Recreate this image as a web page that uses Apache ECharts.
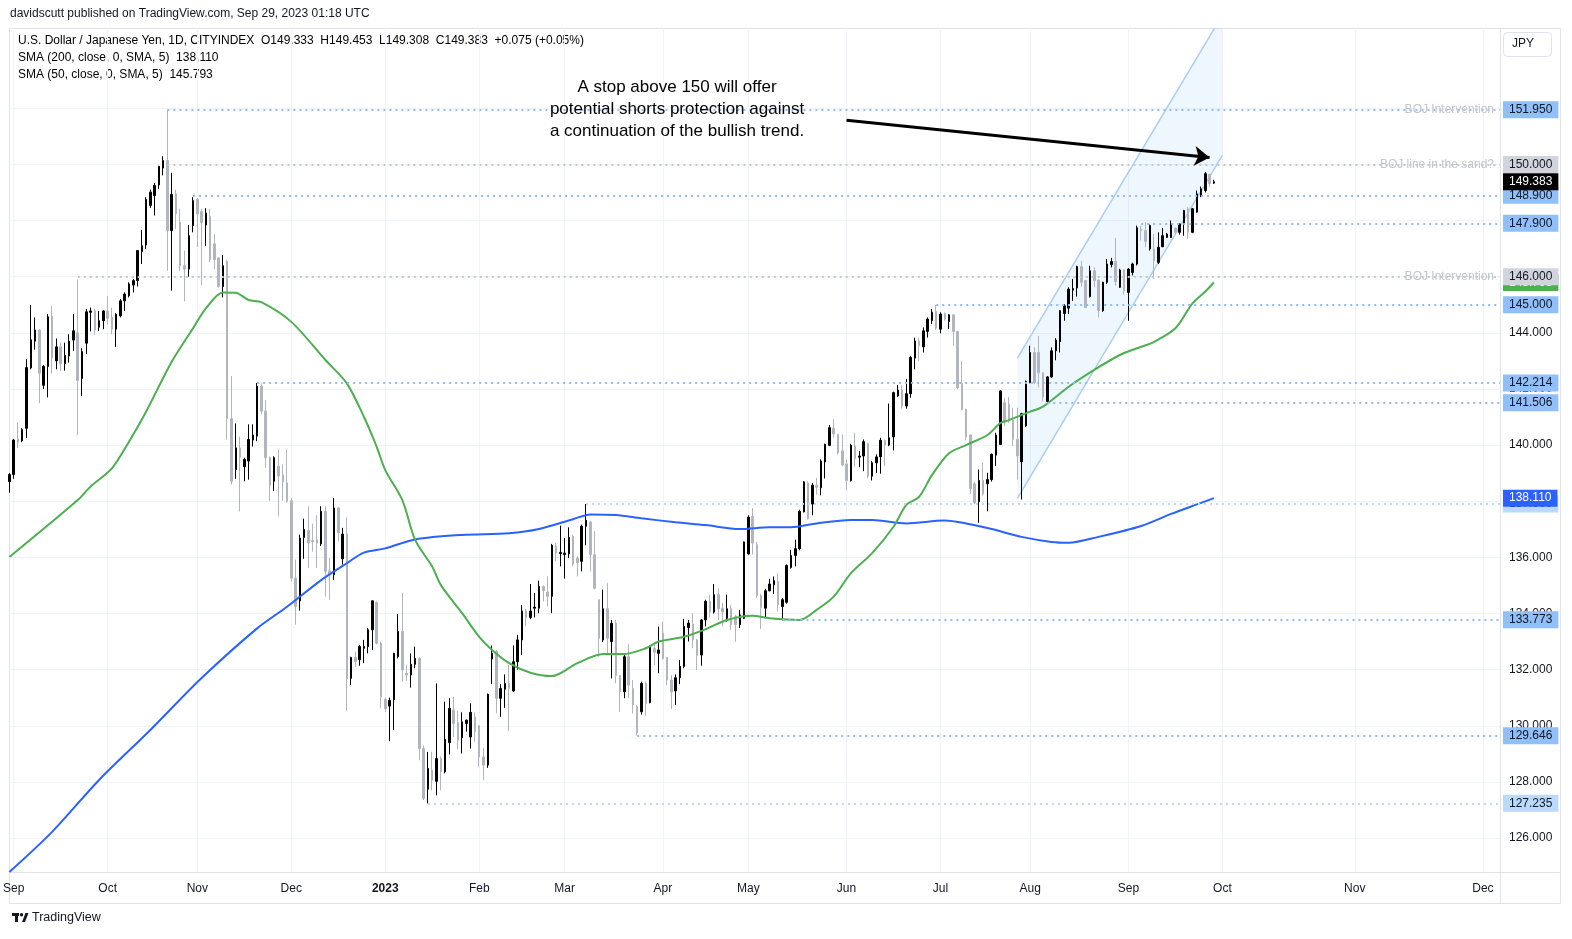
<!DOCTYPE html>
<html>
<head>
<meta charset="utf-8">
<title>USDJPY 1D</title>
<script src="https://cdn.jsdelivr.net/npm/echarts@6/dist/echarts.min.js"></script>
<style>
  html, body { margin: 0; padding: 0; background: #ffffff; }
  #chart { width: 1572px; height: 939px; }
</style>
</head>
<body>
<div id="chart"></div>
<script>
const FONT = '"Liberation Sans", Arial, sans-serif';

// candles, [open, close, low, high], one array per month
const sep22 = [
  [138.70,138.95,138.30,139.00],[138.95,140.18,138.80,140.22],[140.20,140.10,139.90,140.80],
  [140.15,140.55,140.10,140.60],[140.60,142.76,140.25,143.06],[142.75,143.75,142.70,144.99],
  [143.70,144.10,143.40,144.55],[144.10,142.56,141.50,144.12],[142.13,142.80,142.00,142.85],
  [142.80,144.57,141.70,144.67],[144.60,143.10,142.55,144.96],[143.00,143.50,142.70,143.80],
  [143.50,142.90,142.64,143.65],[142.90,143.20,142.65,143.65],[143.17,143.70,142.94,143.95],
  [143.74,144.07,143.36,144.67],[144.00,142.30,140.35,145.90],[142.37,143.33,141.75,143.45],
  [143.63,144.75,143.24,144.85],[144.73,144.78,144.05,144.90],[144.78,144.10,143.93,144.85],
  [144.20,144.43,144.07,144.78],[144.43,144.78,144.13,144.80]
];
const oct22 = [
  [144.78,144.52,144.30,145.30],[144.55,144.13,143.95,144.90],[144.13,144.66,143.50,144.70],
  [144.60,145.14,144.55,145.20],[145.14,145.38,144.78,145.44],[145.32,145.74,145.26,145.80],
  [145.70,145.86,145.44,145.92],[145.86,146.93,145.65,146.95],[146.90,147.10,146.45,147.67],
  [147.13,148.75,146.99,148.83],[148.54,149.01,148.45,149.10],[148.89,149.25,148.18,149.34],
  [149.27,149.93,149.13,149.95],[149.87,150.14,149.61,150.29],[150.14,147.64,146.21,151.95],
  [147.64,148.93,145.50,149.70],[148.95,148.24,147.70,149.10],[147.94,146.39,146.21,148.42],
  [146.39,146.27,145.12,146.93],[146.27,147.46,146.00,147.84],[147.82,148.71,147.58,148.83]
];
const nov22 = [
  [148.75,148.24,147.05,148.80],[148.32,147.92,145.70,148.42],[147.84,148.27,147.10,148.44],
  [148.14,146.61,146.51,148.42],[147.17,146.61,146.27,147.52],[146.67,145.65,145.62,146.70],
  [145.65,146.39,145.26,146.77],[146.54,140.94,140.20,146.60],[140.94,138.71,138.60,142.46],
  [139.13,139.90,138.80,140.77],[139.90,139.57,137.64,140.30],[139.23,139.49,138.71,139.55],
  [139.43,140.20,138.77,140.74],[140.18,140.36,139.95,140.74],[140.32,142.10,140.14,142.214],
  [142.10,141.21,141.10,142.20],[141.21,139.55,139.19,141.60],[139.55,138.57,138.02,139.60],
  [138.71,139.55,138.36,139.60],[139.25,138.90,137.46,139.85],[138.93,138.69,138.02,139.31],
  [138.65,138.00,137.94,139.85]
];
const dec22 = [
  [138.02,135.26,135.14,138.12],[135.26,134.25,133.60,135.92],[134.45,136.69,134.10,136.81],
  [136.71,136.99,135.95,137.38],[136.95,136.51,135.62,137.82],[136.60,136.55,136.20,137.20],
  [136.63,136.51,135.62,137.50],[136.48,137.64,136.40,137.82],[137.64,135.50,134.60,137.82],
  [135.52,135.38,134.49,135.98],[135.38,137.76,135.20,138.12],[137.76,136.87,136.57,137.80],
  [135.95,136.83,135.74,137.05],[136.83,131.67,130.52,137.43],[131.69,132.43,131.45,132.46],
  [132.43,132.29,132.10,132.64],[132.35,132.82,132.14,132.88],[132.76,132.82,132.23,133.06],
  [132.82,133.42,132.58,133.48],[133.42,134.45,132.70,134.47],[134.40,132.94,132.90,134.42],
  [132.94,131.04,130.62,133.00]
];
const jan23 = [
  [130.95,130.60,130.50,131.00],[130.70,130.90,129.45,131.00],[130.92,132.58,129.85,132.60],
  [132.46,133.36,132.40,133.98],[133.36,131.99,131.57,134.73],[131.87,131.81,131.60,132.17],
  [131.81,132.19,131.36,132.58],[132.19,132.40,132.05,132.82],[132.40,129.19,128.77,132.45],
  [129.19,127.41,127.35,129.30],[127.74,128.48,127.235,129.07],[128.42,128.06,127.70,129.07],
  [128.02,128.83,127.52,131.51],[128.83,128.36,127.70,128.90],[128.36,129.52,128.30,130.86],
  [129.40,130.62,128.98,130.98],[130.56,130.08,129.60,131.04],[130.12,129.49,129.17,130.52],
  [129.57,130.14,129.01,130.48],[130.08,130.20,129.79,130.22],[129.60,130.48,129.19,130.80],
  [130.32,129.79,129.43,130.48]
];
const feb23 = [
  [130.00,128.89,128.54,130.02],[128.89,128.60,128.06,129.21],[128.60,131.12,128.50,131.15],
  [132.38,132.58,131.48,132.86],[132.64,130.98,130.44,132.70],[130.98,131.33,130.32,131.48],
  [131.30,131.51,130.64,131.83],[131.51,131.33,129.80,132.17],[131.24,132.28,131.20,132.86],
  [132.28,133.06,132.00,133.24],[133.06,134.09,132.52,134.30],[134.09,133.86,133.54,134.17],
  [133.86,134.09,133.80,135.05],[134.19,134.23,133.86,134.73],[134.19,134.96,134.01,135.17],
  [134.96,134.81,134.43,135.00],[134.76,134.61,134.25,135.32],[134.61,136.43,134.01,136.48],
  [136.39,136.15,135.86,136.51],[136.14,136.18,135.68,137.13]
];
const mar23 = [
  [136.10,136.15,135.24,136.69],[136.12,136.71,135.98,137.07],[136.75,135.76,135.68,136.80],
  [135.98,135.80,135.32,136.04],[135.86,137.11,135.50,137.17],[137.11,137.32,136.43,137.90],
  [137.26,136.09,135.50,137.30],[136.09,134.90,134.85,136.93],[134.49,133.12,132.46,134.50],
  [133.06,134.17,132.98,134.85],[134.17,133.12,132.52,135.08],[133.00,133.65,131.69,133.77],
  [133.65,131.79,131.51,133.77],[131.79,131.21,130.50,131.80],[131.21,132.46,130.98,132.55],
  [132.46,131.45,130.98,132.90],[131.33,130.74,130.44,131.63],[130.68,129.75,129.646,130.75],
  [130.50,131.51,130.40,131.57],[131.51,130.80,130.36,131.57],[130.83,132.79,130.80,132.86],
  [132.76,132.62,132.17,132.88],[132.58,132.70,131.87,133.53]
];
const apr23 = [
  [133.30,132.40,132.35,133.71],[132.43,131.63,131.45,132.45],[131.63,131.20,130.60,131.80],
  [131.24,131.71,130.74,131.83],[131.71,132.11,131.48,132.34],[132.11,133.54,132.05,133.81],
  [133.50,133.66,133.00,133.77],[133.62,133.06,132.76,134.01],[133.06,132.50,131.99,133.10],
  [132.52,133.77,132.14,133.80],[133.77,134.43,133.54,134.49],[134.43,134.05,133.86,134.67],
  [134.05,134.67,134.00,135.05],[134.67,134.17,133.77,134.90],[134.19,134.05,133.54,134.37],
  [133.83,134.17,133.71,134.67],[134.17,133.60,133.42,134.31],[133.89,133.60,133.00,133.95],
  [133.60,133.95,133.48,134.13],[133.83,136.55,133.80,136.57]
];
const may23 = [
  [136.12,137.43,136.10,137.50],[137.46,136.51,136.10,137.76],[136.45,134.64,134.55,136.55],
  [134.64,134.21,133.45,134.70],[134.19,134.81,133.83,134.88],[134.81,135.05,134.79,135.24],
  [135.02,135.17,134.69,135.32],[135.14,134.31,134.07,135.44],[134.25,134.49,133.773,134.55],
  [134.40,135.71,134.35,135.75],[135.64,136.07,135.60,136.27],[136.07,136.31,135.68,136.63],
  [136.31,137.64,136.25,137.70],[137.62,138.69,137.60,138.71],[138.65,137.38,137.35,138.70],
  [137.90,138.57,137.50,138.65],[138.57,138.50,138.24,138.83],[138.48,139.43,138.21,139.49],
  [139.40,140.02,138.81,140.05],[139.99,140.62,139.96,140.71],[140.60,140.40,140.26,140.92],
  [140.38,139.73,139.67,140.40],[139.79,139.29,139.25,140.38]
];
const jun23 = [
  [139.33,138.74,138.39,139.49],[138.74,140.00,138.70,140.05],[139.96,139.52,139.21,140.44],
  [139.57,139.61,139.21,139.79],[139.61,140.12,139.07,140.20],[140.06,138.89,138.83,140.08],
  [138.89,139.37,138.74,139.43],[139.37,139.58,139.01,139.67],[139.58,140.17,138.98,140.26],
  [140.17,140.00,139.25,140.20],[140.00,140.26,139.96,141.48],[140.29,141.87,139.81,141.90],
  [141.75,141.96,141.71,142.14],[141.96,141.39,141.30,142.14],[141.39,141.83,141.30,142.35],
  [141.83,143.12,141.69,143.18],[143.10,143.71,142.70,143.83],[143.71,143.54,143.00,143.83],
  [143.50,144.07,143.30,144.19],[144.05,144.49,143.83,144.55],[144.43,144.73,144.31,144.85],
  [144.76,144.17,144.10,145.00]
];
const jul23 = [
  [144.13,144.67,143.98,144.73],[144.69,144.49,144.43,144.72],[144.40,144.64,144.13,144.66],
  [144.64,144.05,143.54,144.66],[144.05,142.05,142.00,144.07],[142.19,141.27,141.24,143.00],
  [141.27,140.29,140.17,141.30],[140.36,138.45,138.26,140.38],[138.62,137.94,137.90,138.70],
  [137.98,138.74,137.23,139.13],[138.74,138.26,138.20,139.37],[138.62,138.77,137.64,139.01],
  [138.77,139.67,138.70,139.70],[139.64,140.36,139.25,140.44],[140.02,141.93,140.00,141.95],
  [141.51,140.80,140.68,141.69],[141.45,140.86,140.80,141.71],[140.88,140.20,139.96,141.33],
  [140.20,139.61,138.77,141.33],[139.40,141.12,138.06,141.15],[140.68,142.26,140.65,142.30]
];
const aug23 = [
  [142.23,143.30,142.20,143.54],[143.30,142.23,142.17,143.48],[143.30,142.58,142.05,143.89],
  [142.58,141.71,141.55,142.60],[141.55,142.43,141.506,142.45],[142.43,143.36,142.40,143.48],
  [143.36,143.74,143.02,143.81],[143.69,144.79,143.30,144.81],[144.69,144.96,144.43,145.02],
  [144.88,145.56,144.67,145.62],[145.52,145.58,145.14,145.92],[145.60,146.36,145.29,146.39],
  [146.36,145.80,145.64,146.57],[145.86,144.90,144.88,145.88],[145.29,146.21,145.26,146.39],
  [146.21,145.86,145.62,146.33],[145.88,144.79,144.55,145.90],[144.79,145.80,144.75,145.82],
  [145.80,146.45,145.74,146.63],[146.43,146.54,146.33,146.67],[146.54,145.83,145.68,147.38],
  [145.62,146.24,145.60,146.28],[146.24,145.50,145.36,146.26]
];
const sep23 = [
  [145.44,146.27,144.43,146.30],[146.15,146.45,146.04,146.50],[146.45,147.74,146.40,147.82],
  [147.70,147.64,147.29,147.82],[147.64,147.26,147.05,147.94],[146.99,147.82,146.93,147.86],
  [146.99,146.57,145.92,147.52],[146.51,147.05,146.45,147.58],[147.07,147.46,147.05,147.74],
  [147.40,147.52,147.38,147.56],[147.40,147.88,147.38,148.00],[147.73,147.58,147.50,147.76],
  [147.58,147.88,147.50,147.90],[147.88,148.36,147.46,148.38],[148.42,147.58,147.35,148.48],
  [147.58,148.42,147.55,148.45],[148.30,148.95,148.28,149.07],[148.89,149.13,148.83,149.21],
  [149.07,149.67,149.00,149.73],[149.64,149.31,149.19,149.67],[149.333,149.383,149.308,149.453]
];

// moving averages, [bar index, value]
const sma200 = [
  [0,124.79],[10,126.22],[21,128.07],[33,129.85],[45,131.70],[58,133.47],[65,134.24],[73,135.19],
  [79,135.79],[83,136.17],[88,136.32],[95,136.64],[106,136.80],[117,136.86],[124,137.01],[132,137.36],
  [136,137.53],[142,137.51],[148,137.39],[156,137.25],[163,137.15],[171,137.01],[178,137.07],[183,137.07],
  [189,137.21],[197,137.33],[202,137.33],[210,137.21],[219,137.31],[224,137.21],[230,137.01],[237,136.73],
  [244,136.55],[248,136.52],[255,136.73],[265,137.12],[272,137.55],[279,137.94],[282,138.11]
];
const sma50 = [
  [0,136.01],[16,138.04],[19,138.52],[24,139.17],[28,140.12],[32,141.19],[38,142.97],[43,144.16],
  [46,144.87],[50,145.44],[53,145.43],[56,145.17],[59,145.09],[66,144.39],[74,143.03],[79,142.20],
  [83,141.01],[86,139.94],[88,139.11],[92,138.04],[95,136.62],[99,135.67],[101,135.02],[106,134.01],
  [110,133.17],[113,132.70],[117,132.23],[122,131.89],[127,131.77],[133,132.23],[139,132.56],[144,132.56],
  [149,132.76],[152,133.00],[158,133.17],[163,133.44],[168,133.77],[174,133.92],[178,133.83],[185,133.77],
  [189,134.13],[193,134.60],[197,135.43],[202,136.15],[207,137.09],[210,137.87],[213,138.16],[216,138.93],
  [220,139.71],[224,140.00],[229,140.36],[232,140.78],[234,140.89],[239,141.19],[242,141.37],[248,142.08],
  [254,142.68],[260,143.21],[264,143.45],[268,143.68],[273,144.16],[277,145.05],[280,145.47],[282,145.793]
];

// horizontal levels drawn on the chart
const levelPrice = [151.95, 150.0, 148.9, 147.9, 146.0, 145.0, 142.214, 141.506, 137.9, 133.773, 129.646, 127.235];
const levelFrom  = ['2022-10-21','2022-10-21','2022-10-31','2023-09-06','2022-09-22','2023-06-30',
                    '2022-11-21','2023-08-07','2023-03-08','2023-05-11','2023-03-24','2023-01-16'];
const levelKind  = ['blue','gray','blue','blue','gray','blue','blue','blue','light','blue','blue','light'];
const levelNote  = ['BOJ Intervention','BOJ line in the sand?','','','BOJ Intervention','','','','','','',''];

// trend channel and arrow, [bar index, price]
const channelUpper = [[236, 143.10], [283.8, 155.32]];
const channelLower = [[236, 138.10], [283.8, 150.32]];
const arrowLine = [[196, 151.57], [281, 150.25]];

const priceTicks = [126,128,130,132,134,136,138,140,142,144,146,148,150,152];
const monthNames = ['Jan','Feb','Mar','Apr','May','Jun','Jul','Aug','Sep','Oct','Nov','Dec'];
const yMin = 124.79, yMax = 154.86;

function buildDates() {
  const out = [];
  const d = new Date(Date.UTC(2022, 7, 31));
  const pastEnd = Date.UTC(2023, 8, 29);
  const futureEnd = Date.UTC(2023, 11, 5);
  while (d.getTime() <= futureEnd) {
    const dow = d.getUTCDay();
    if (d.getTime() > pastEnd || (dow !== 0 && dow !== 6)) out.push(d.toISOString().slice(0, 10));
    d.setUTCDate(d.getUTCDate() + 1);
  }
  return out;
}

const dates = buildDates();
const lastDate = dates[dates.length - 1];
const lastIdx = dates.length - 1;
const candles = [].concat(sep22, oct22, nov22, dec22, jan23, feb23, mar23, apr23, may23, jun23, jul23, aug23, sep23);
const monthStart = new Set();
dates.forEach((d, i) => { if (i > 0 && d.slice(5, 7) !== dates[i - 1].slice(5, 7)) monthStart.add(i); });
const isMonthStart = (i) => monthStart.has(i);

const lineColor = { blue: '#8fbcf8', gray: '#c5c7cd', light: '#bcd9fb' };
const boxColor  = { blue: '#90bff9', gray: '#d1d4dc', light: '#bbd9fb' };

const boxLabel = (p, bg, fg) => ({
  show: true, position: 'end', distance: 3, formatter: p.toFixed(3),
  color: fg, backgroundColor: bg, padding: [3, 6, 2, 6],
  fontSize: 12, fontFamily: FONT
});

const levelLines = levelPrice.map((p, i) => [
  {
    coord: [levelFrom[i], p],
    lineStyle: { color: lineColor[levelKind[i]], type: [2, 4], width: 2 },
    label: boxLabel(p, boxColor[levelKind[i]], '#131722')
  },
  { coord: [lastDate, p] }
]);
const levelNotes = levelPrice.map((p, i) => ({ p, note: levelNote[i] }))
  .filter(o => o.note)
  .map(o => ({
    coord: [lastDate, o.p],
    label: { formatter: o.note }
  }));

// price tags on the axis, no visible line
const tagLine = (p, bg) => [
  { coord: [dates[lastIdx - 1], p], lineStyle: { color: 'rgba(255,255,255,0)', width: 1 }, label: boxLabel(p, bg, '#ffffff') },
  { coord: [lastDate, p] }
];

const last = sep23[sep23.length - 1];
const legend1 = '{t|U.S. Dollar / Japanese Yen, 1D, CITYINDEX}  ' +
  '{t|O}{g|' + last[0].toFixed(3) + '}  {t|H}{g|' + last[3].toFixed(3) + '}  ' +
  '{t|L}{g|' + last[2].toFixed(3) + '}  {t|C}{g|' + last[1].toFixed(3) + '}  {g|+0.075 (+0.05%)}';
const legend2 = '{t|SMA (200, close, 0, SMA, 5)}  {b|' + sma200[sma200.length - 1][1].toFixed(3) + '}';
const legend3 = '{t|SMA (50, close, 0, SMA, 5)}  {s|' + sma50[sma50.length - 1][1].toFixed(3) + '}';
const legendRich = {
  t: { color: '#131722', fontSize: 12, fontFamily: FONT },
  g: { color: '#089981', fontSize: 12, fontFamily: FONT },
  b: { color: '#2962ff', fontSize: 12, fontFamily: FONT },
  s: { color: '#4caf50', fontSize: 12, fontFamily: FONT }
};

const chart = echarts.init(document.getElementById('chart'), null, { renderer: 'canvas' });

chart.setOption({
  backgroundColor: '#ffffff',
  animation: false,
  textStyle: { fontFamily: FONT },
  grid: { left: 9, right: 72, top: 28, bottom: 67 },
  xAxis: {
    type: 'category',
    data: dates,
    boundaryGap: false,
    axisLine: { show: false },
    axisTick: { show: false },
    axisLabel: {
      interval: isMonthStart,
      margin: 11,
      formatter: (v) => {
        const m = +v.slice(5, 7);
        return m === 1 ? '{y|' + v.slice(0, 4) + '}' : '{m|' + monthNames[m - 1] + '}';
      },
      rich: {
        m: { color: '#131722', fontSize: 12, fontFamily: FONT },
        y: { color: '#131722', fontSize: 12, fontWeight: 'bold', fontFamily: FONT }
      }
    },
    splitLine: { show: true, interval: isMonthStart, lineStyle: { color: '#f0f3fa', width: 1 } }
  },
  yAxis: {
    type: 'value',
    position: 'right',
    min: yMin,
    max: yMax,
    axisLine: { show: false },
    axisTick: { show: false, customValues: priceTicks },
    axisLabel: {
      customValues: priceTicks,
      formatter: (v) => v.toFixed(3),
      color: '#131722', fontSize: 12, fontFamily: FONT, margin: 9
    },
    splitLine: { show: false }
  },
  series: [
    {
      name: 'grid',
      type: 'line',
      data: [],
      z: 1,
      silent: true,
      markLine: {
        silent: true, symbol: 'none', z: 1,
        label: { show: false },
        lineStyle: { color: '#f0f3fa', type: 'solid', width: 1 },
        data: priceTicks.map(p => ({ yAxis: p }))
      }
    },
    {
      name: 'channel',
      type: 'custom',
      z: 2,
      clip: true,
      silent: true,
      data: [0],
      renderItem: (params, api) => {
        const up = channelUpper.map(p => api.coord(p));
        const lo = channelLower.map(p => api.coord(p));
        const cs = params.coordSys;
        return {
          type: 'group',
          clipPath: { type: 'rect', shape: { x: cs.x, y: cs.y, width: cs.width, height: cs.height } },
          children: [
            { type: 'polygon', shape: { points: [up[0], up[1], lo[1], lo[0]] }, style: { fill: 'rgba(33,150,243,0.08)' } },
            { type: 'line', shape: { x1: up[0][0], y1: up[0][1], x2: up[1][0], y2: up[1][1] }, style: { stroke: '#a9cdf7', lineWidth: 1.5 } },
            { type: 'line', shape: { x1: lo[0][0], y1: lo[0][1], x2: lo[1][0], y2: lo[1][1] }, style: { stroke: '#a9cdf7', lineWidth: 1.5 } }
          ]
        };
      }
    },
    {
      name: 'USDJPY',
      type: 'candlestick',
      data: candles,
      z: 3,
      barWidth: 2,
      itemStyle: {
        color: '#000000', color0: '#b2b5be',
        borderColor: '#000000', borderColor0: '#b2b5be', borderWidth: 1
      }
    },
    {
      name: 'SMA 200',
      type: 'line',
      data: sma200,
      z: 4,
      symbol: 'none',
      smooth: 0.3,
      lineStyle: { color: '#2962ff', width: 2 }
    },
    {
      name: 'SMA 50',
      type: 'line',
      data: sma50,
      z: 4,
      symbol: 'none',
      smooth: 0.3,
      lineStyle: { color: '#4caf50', width: 2 }
    },
    {
      name: 'sma50 tag',
      type: 'line',
      data: [],
      z: 5,
      clip: false,
      markLine: { silent: true, symbol: 'none', z: 5, data: [tagLine(sma50[sma50.length - 1][1], '#4caf50')] }
    },
    {
      name: 'levels',
      type: 'line',
      data: [],
      z: 6,
      clip: false,
      markLine: { silent: true, symbol: 'none', z: 6, data: levelLines },
      markPoint: {
        silent: true, symbol: 'circle', symbolSize: 0, z: 6,
        label: { show: true, position: 'left', distance: 6, color: '#c3c5cb', fontSize: 12, fontFamily: FONT },
        data: levelNotes
      }
    },
    {
      name: 'tags',
      type: 'line',
      data: [],
      z: 7,
      clip: false,
      markLine: {
        silent: true, symbol: 'none', z: 7,
        data: [
          tagLine(sma200[sma200.length - 1][1], '#2962ff'),
          tagLine(last[1], '#000000')
        ]
      }
    },
    {
      name: 'arrow',
      type: 'line',
      data: [],
      z: 8,
      markLine: {
        silent: true, z: 8,
        symbol: ['none', 'arrow'], symbolSize: 15,
        label: { show: false },
        lineStyle: { color: '#000000', width: 3, type: 'solid' },
        data: [[{ coord: arrowLine[0] }, { coord: arrowLine[1] }]]
      }
    }
  ],
  graphic: [
    { type: 'rect', silent: true, z: 0, shape: { x: 9.5, y: 28.5, width: 1551, height: 875 }, style: { fill: 'none', stroke: '#e0e3eb', lineWidth: 1 } },
    { type: 'line', silent: true, z: 0, shape: { x1: 1500.5, y1: 28, x2: 1500.5, y2: 903 }, style: { stroke: '#e0e3eb', lineWidth: 1 } },
    { type: 'line', silent: true, z: 0, shape: { x1: 9, y1: 872.5, x2: 1561, y2: 872.5 }, style: { stroke: '#e0e3eb', lineWidth: 1 } },
    { type: 'text', silent: true, left: 10, top: 8, style: { text: 'davidscutt published on TradingView.com, Sep 29, 2023 01:18 UTC', fill: '#131722', font: '12px ' + FONT } },
    { type: 'text', silent: true, left: 18, top: 35, style: { text: legend1, rich: legendRich } },
    { type: 'text', silent: true, left: 18, top: 52, style: { text: legend2, rich: legendRich } },
    { type: 'text', silent: true, left: 18, top: 69, style: { text: legend3, rich: legendRich } },
    { type: 'rect', silent: true, shape: { x: 1503.5, y: 32.5, width: 48, height: 24, r: 4 }, style: { fill: '#ffffff', stroke: '#e0e3eb', lineWidth: 1 } },
    { type: 'text', silent: true, left: 1512, top: 38, style: { text: 'JPY', fill: '#131722', font: '12px ' + FONT } },
    {
      type: 'text', silent: true, x: 677, y: 76, z: 10,
      style: {
        text: 'A stop above 150 will offer\npotential shorts protection against\na continuation of the bullish trend.',
        fill: '#000000', font: '17px ' + FONT, align: 'center', verticalAlign: 'top', lineHeight: 22
      }
    },
    { type: 'rect', silent: true, shape: { x: 12, y: 913, width: 7, height: 3 }, style: { fill: '#131722' } },
    { type: 'rect', silent: true, shape: { x: 15, y: 913, width: 3, height: 9 }, style: { fill: '#131722' } },
    { type: 'circle', silent: true, shape: { cx: 21.5, cy: 914.8, r: 1.7 }, style: { fill: '#131722' } },
    { type: 'polygon', silent: true, shape: { points: [[22, 922], [25.5, 913], [28.5, 913], [25, 922]] }, style: { fill: '#131722' } },
    { type: 'text', silent: true, left: 32, top: 911, style: { text: 'TradingView', fill: '#131722', font: '12.5px ' + FONT } }
  ]
});
</script>
</body>
</html>
